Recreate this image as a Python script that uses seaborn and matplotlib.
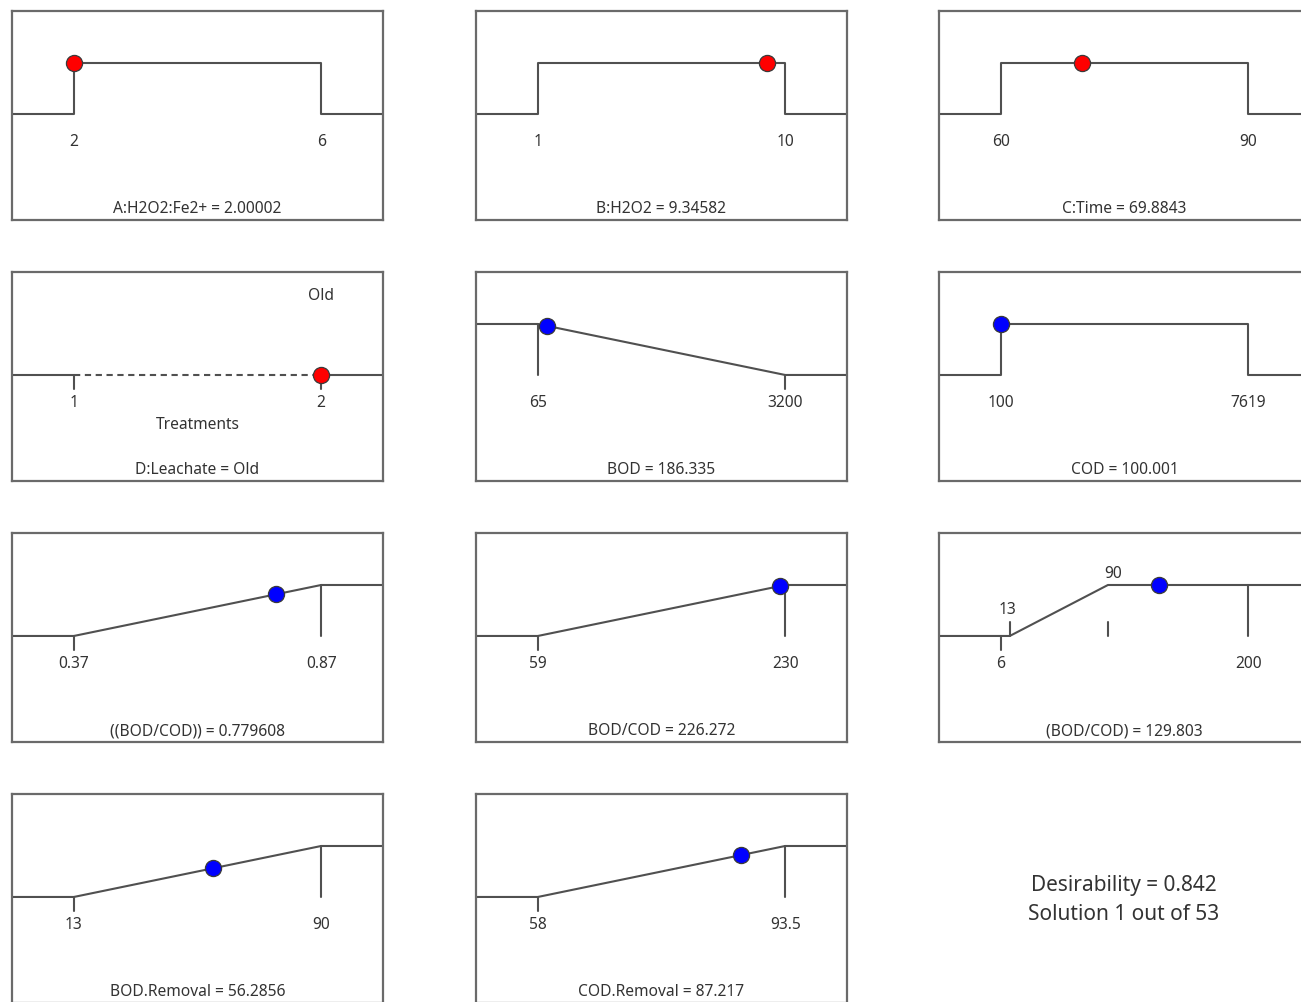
import numpy as np
import pandas as pd
import seaborn as sns
import matplotlib
matplotlib.use("Agg")
import matplotlib.pyplot as plt

sns.set_theme(style="white")
plt.rcParams["font.family"] = ["Noto Sans", "DejaVu Sans"]

# ---- optimisation ramp data -------------------------------------------------
panel_names = ["A:H2O2:Fe2+", "B:H2O2", "C:Time", "D:Leachate", "BOD", "COD",
               "((BOD/COD))", "BOD/COD", "(BOD/COD)", "BOD.Removal", "COD.Removal"]
range_low = [2, 1, 60, 1, 65, 100, 0.37, 59, 6, 13, 58]
range_high = [6, 10, 90, 2, 3200, 7619, 0.87, 230, 200, 90, 93.5]
goal_low = [2, 1, 60, 1, 65, 100, 0.37, 59, 13, 13, 58]
goal_high = [6, 10, 90, 2, 3200, 7619, 0.87, 230, 90, 90, 93.5]
goal_type = ["range", "range", "range", "categorical", "minimize", "range",
             "maximize", "maximize", "maximize", "maximize", "maximize"]
is_factor = [True, True, True, True, False, False, False, False, False, False, False]
solution_value = [2.00002, 9.34582, 69.8843, 2, 186.335, 100.001,
                  0.779608, 226.272, 129.803, 56.2856, 87.217]
solution_text = ["2.00002", "9.34582", "69.8843", "Old", "186.335", "100.001",
                 "0.779608", "226.272", "129.803", "56.2856", "87.217"]
range_low_text = ["2", "1", "60", "1", "65", "100", "0.37", "59", "6", "13", "58"]
range_high_text = ["6", "10", "90", "2", "3200", "7619", "0.87", "230", "200", "90", "93.5"]
goal_low_text = "13"
goal_high_text = "90"
category_axis_title = "Treatments"
category_level = "Old"
desirability = 0.842
solution_number = 1
solution_count = 53

# ---- layout (pixels) --------------------------------------------------------
W, H = 1301, 1002
col_left = [12, 476, 939]
row_top = [11, 272, 533, 794]
pw, ph = 371, 209

line_c = "#505050"
text_c = "#333333"
lw = 1.5
tick = 0.27
fs = 11.2

fig = plt.figure(figsize=(W / 100, H / 100), dpi=100)


def seg(ax, xs, ys, **kw):
    df = pd.DataFrame({"x": xs, "y": ys})
    sns.lineplot(data=df, x="x", y="y", sort=False, estimator=None, ax=ax,
                 color=line_c, linewidth=lw, legend=False, **kw)


def desir(i, v):
    lo, hi = goal_low[i], goal_high[i]
    g = goal_type[i]
    if g == "range":
        return 1.0 if lo <= v <= hi else 0.0
    if g == "minimize":
        return float(np.clip((hi - v) / (hi - lo), 0, 1))
    if g == "maximize":
        return float(np.clip((v - lo) / (hi - lo), 0, 1))
    return 0.0


for i, name in enumerate(panel_names):
    r, c = divmod(i, 3)
    rect = [col_left[c] / W, 1 - (row_top[r] + ph) / H, pw / W, ph / H]
    ax = fig.add_axes(rect)
    rlo, rhi = range_low[i], range_high[i]
    glo, ghi = goal_low[i], goal_high[i]
    span = rhi - rlo
    xmin, xmax = rlo - 0.25 * span, rhi + 0.25 * span
    g = goal_type[i]

    if g == "range":
        seg(ax, [xmin, rlo, rlo, rhi, rhi, xmax], [0, 0, 1, 1, 0, 0])
    elif g == "minimize":
        seg(ax, [xmin, glo, ghi, xmax], [1, 1, 0, 0])
        seg(ax, [glo, glo], [1, 0])
        seg(ax, [ghi, ghi], [0, -tick])
    elif g == "maximize":
        seg(ax, [xmin, glo, ghi, xmax], [0, 0, 1, 1])
        seg(ax, [rhi, rhi], [1, 0])
        seg(ax, [rlo, rlo], [0, -tick])
        if glo != rlo:
            seg(ax, [glo, glo], [tick, 0])
            seg(ax, [ghi, ghi], [tick, 0])
            ax.text(glo - 0.01 * span, tick + 0.24, goal_low_text, ha="center",
                    va="center", fontsize=fs, color=text_c)
            ax.text(ghi + 0.02 * span, 1.22, goal_high_text, ha="center",
                    va="center", fontsize=fs, color=text_c)
    else:  # categorical factor
        seg(ax, [xmin, rlo], [0, 0])
        seg(ax, [rhi, xmax], [0, 0])
        seg(ax, [rlo, rhi], [0, 0], linestyle=(0, (3, 2.2)))
        seg(ax, [rlo, rlo], [0, -tick])
        seg(ax, [rhi, rhi], [0, -tick])
        ax.text(rhi, 1.55, category_level, ha="center", va="center",
                fontsize=fs, color=text_c)
        ax.text((rlo + rhi) / 2, -0.98, category_axis_title,
                ha="center", va="center", fontsize=fs, color=text_c)

    # limit labels
    ax.text(rlo, -0.55, range_low_text[i], ha="center", va="center",
            fontsize=fs, color=text_c)
    ax.text(rhi, -0.55, range_high_text[i], ha="center", va="center",
            fontsize=fs, color=text_c)

    # current solution marker
    v = solution_value[i]
    pt = pd.DataFrame({"x": [v], "y": [desir(i, v)]})
    sns.scatterplot(data=pt, x="x", y="y", ax=ax, s=135, zorder=5,
                    color="#ff0000" if is_factor[i] else "#0000ff",
                    edgecolor="#3a3a3a", linewidth=0.9, legend=False)

    ax.text(0.5 * (xmin + xmax), -1.87, f"{name} = {solution_text[i]}",
            ha="center", va="center", fontsize=fs, color=text_c)

    ax.set_xlim(xmin, xmax)
    ax.set_ylim(-2.08, 2.02)
    ax.set_xticks([])
    ax.set_yticks([])
    ax.set_xlabel("")
    ax.set_ylabel("")
    for sp in ax.spines.values():
        sp.set_color("#6a6a6a")
        sp.set_linewidth(1.6)

fig.text(1124 / W, 1 - 886 / H, f"Desirability = {desirability:.3f}",
         ha="center", va="center", fontsize=15, color=text_c)
fig.text(1124 / W, 1 - 914 / H,
         f"Solution {solution_number} out of {solution_count}",
         ha="center", va="center", fontsize=15, color=text_c)

fig.savefig("out.png", dpi=100, facecolor="white")
